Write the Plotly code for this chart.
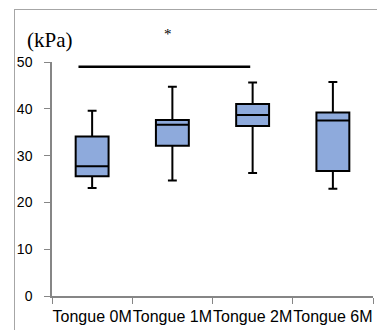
import plotly.graph_objects as go

categories = ["Tongue 0M", "Tongue 1M", "Tongue 2M", "Tongue 6M"]
lower = [23.1, 24.7, 26.3, 22.9]
q1 = [25.6, 32.1, 36.3, 26.7]
median = [27.7, 36.6, 38.7, 37.5]
q3 = [34.1, 37.6, 41.0, 39.2]
upper = [39.6, 44.7, 45.6, 45.7]
yticks = [0, 10, 20, 30, 40, 50]
sig_x = [-0.17, 1.97]
sig_y = 49.0
sig_label = "*"
unit_label = "(kPa)"

fig = go.Figure()
fig.add_trace(go.Box(
    x=categories, q1=q1, median=median, q3=q3,
    lowerfence=lower, upperfence=upper,
    fillcolor="#8EAADC",
    line=dict(color="black", width=2),
    width=0.41, whiskerwidth=0.27,
    boxpoints=False, showlegend=False, hoverinfo="skip",
))

fig.add_shape(type="line", xref="x", yref="y", x0=sig_x[0], x1=sig_x[1],
              y0=sig_y, y1=sig_y, line=dict(color="black", width=2.5))
fig.add_annotation(x=0.362, y=1.12, xref="paper", yref="paper",
                   text=sig_label, showarrow=False,
                   xanchor="center", yanchor="middle",
                   font=dict(family="Liberation Serif", size=15, color="black"))
fig.add_annotation(x=-0.006, y=1.094, xref="paper", yref="paper",
                   text=unit_label, showarrow=False,
                   xanchor="center", yanchor="middle",
                   font=dict(family="Liberation Serif", size=21, color="black"))
# outer chart border (extends past right and bottom edges of the picture)
fig.add_annotation(x=-0.1185, y=1.2265, xref="paper", yref="paper",
                   text="", showarrow=False, xanchor="left", yanchor="top",
                   width=420, height=380, bordercolor="#A6A6A6", borderwidth=1,
                   borderpad=0)

fig.update_layout(
    width=377, height=330,
    margin=dict(l=52, r=4, t=62, b=34, autoexpand=False),
    paper_bgcolor="white", plot_bgcolor="white",
    font=dict(family="Liberation Sans", color="black"),
)
fig.update_xaxes(
    type="category", showline=True, linecolor="#868686", linewidth=1.5,
    ticks="outside", tickson="boundaries", ticklen=6, tickcolor="#868686",
    tickfont=dict(size=16), tickangle=0, showgrid=False, zeroline=False,
    range=[-0.5, 3.5], ticklabelstandoff=5,
)
fig.update_yaxes(
    range=[0, 50], tickvals=yticks, showline=True, linecolor="#868686",
    linewidth=1.5, ticks="outside", ticklen=6, tickcolor="#868686",
    tickfont=dict(size=14), showgrid=False, zeroline=False,
    ticklabelstandoff=9,
)

fig.write_html("out.html", config={"displayModeBar": False},
               post_script="document.body.style.margin='0';")
